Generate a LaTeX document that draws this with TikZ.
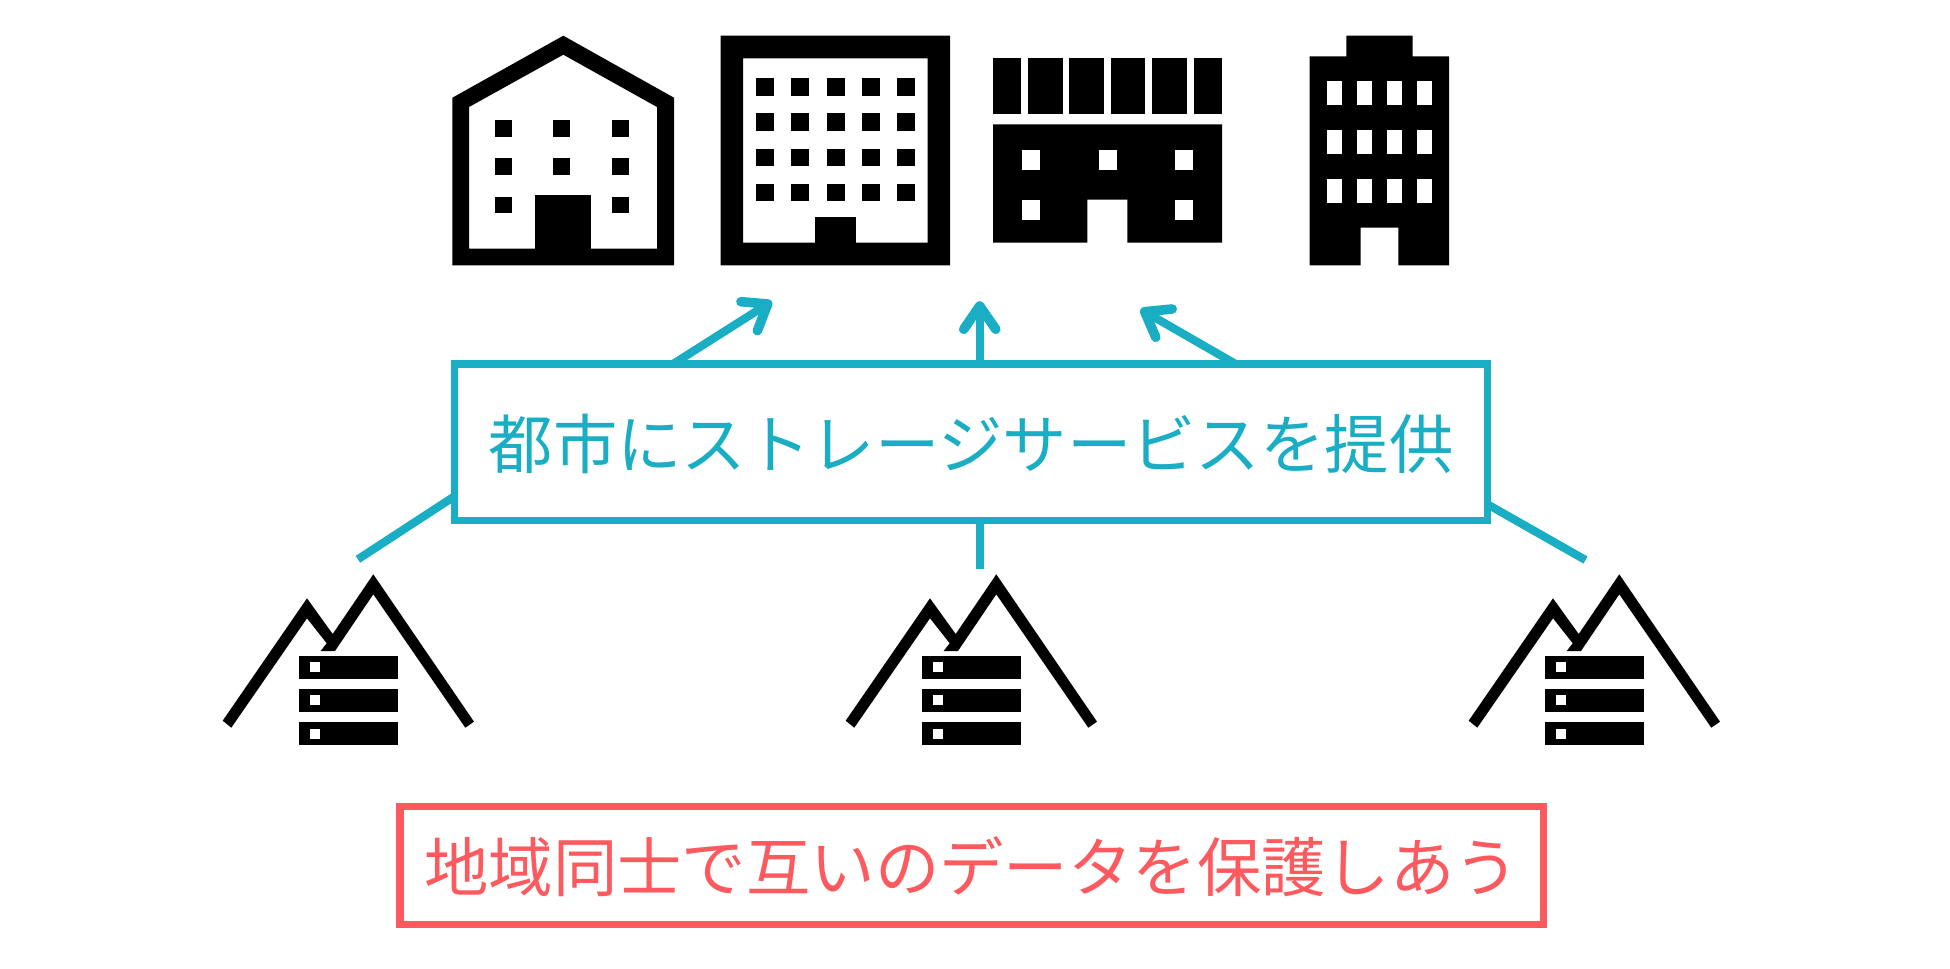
\documentclass[tikz,border=0pt]{standalone}
\usepackage{fontspec}
\setmainfont{Noto Sans CJK JP}
\definecolor{tealc}{HTML}{19AEC4}
\definecolor{redc}{HTML}{FC5A5E}
\tikzset{
  tealline/.style={draw=tealc,line width=4.1pt},
  tealhead/.style={draw=tealc,line width=4.8pt,line cap=round,line join=round},
  captionbox/.style={line width=3.8pt,fill=white,inner sep=0pt,outer sep=0pt,font=\fontsize{32.2pt}{32.2pt}\selectfont}
}
\newcommand{\mountainicon}[1]{%
\begin{scope}[xshift=#1*0.5pt]
\fill[black] (222.7,720.7)--(307,598.3)--(332.7,634)--(373.3,574.3)--(474,721.7)--(465.3,727.7)--(373.3,594.3)--(335,651)--(320.7,651)--(326.7,643.3)--(307,618.3)--(231.3,727.7)--cycle;
\foreach \yy in {656,689,722.3}{
  \fill[black] (298.7,\yy) rectangle (398,\yy+23);
  \fill[white] (310.3,\yy+6.3) rectangle (320.3,\yy+16.3);
}
\end{scope}}
\begin{document}
\begin{tikzpicture}[x=0.5pt,y=-0.5pt]
\useasboundingbox (0,0) rectangle (1950,969);
\fill[white] (0,0) rectangle (1950,969);
% house
\fill[black,even odd rule] (452.4,97.7)--(563.3,35.7)--(674,97.7)--(674,265.3)--(452.4,265.3)--cycle
 (469,107)--(563.3,54.7)--(657,107)--(657,248.7)--(469,248.7)--cycle;
\fill[black] (535.4,195) rectangle (591.2,250);
\foreach \xx in {495.4,553.3,612}{\foreach \yy in {120.3,158.3}{\fill[black] (\xx,\yy) rectangle +(16.7,16.7);}}
\foreach \xx in {495.4,612}{\fill[black] (\xx,196.7) rectangle +(16.7,16.7);}
% office
\fill[black,even odd rule] (720.6,35.7) rectangle (950,265.3) (743,58.3) rectangle (927.6,242.7);
\fill[black] (814.6,217) rectangle (856,244);
\foreach \xx in {756,791.3,826.7,862,897}{\foreach \yy in {78.3,113.3,148.7,183.7}{\fill[black] (\xx,\yy) rectangle +(18,17.5);}}
% store
\foreach \xa/\xb in {993/1021,1028/1062.7,1069.3/1104,1110.7/1145.3,1152.3/1187,1194/1222}{\fill[black] (\xa,57.7) rectangle (\xb,113.7);}
\fill[black] (993,124.3)--(1222,124.3)--(1222,242.7)--(1127.3,242.7)--(1127.3,199.7)--(1087.3,199.7)--(1087.3,242.7)--(993,242.7)--cycle;
\foreach \xx in {1022,1098.7,1174.7}{\fill[white] (\xx,150) rectangle +(18,20);}
\foreach \xx in {1022,1174.7}{\fill[white] (\xx,200.3) rectangle +(18,20);}
% tower
\fill[black] (1309.7,56.3)--(1346.3,56.3)--(1346.3,35.7)--(1412.7,35.7)--(1412.7,56.3)--(1449,56.3)--(1449,265.3)--(1398.3,265.3)--(1398.3,227.7)--(1360.7,227.7)--(1360.7,265.3)--(1309.7,265.3)--cycle;
\foreach \xx in {1327,1357,1387,1417}{\foreach \yy in {80.7,130,179}{\fill[white] (\xx,\yy) rectangle +(15,24.4);}}
% mountains
\mountainicon{0}
\mountainicon{623}
\mountainicon{1246}
% caption boxes
\node[captionbox,draw=tealc,text=tealc,minimum width=516.5pt,minimum height=78.4pt] (svc) at (971.1,442.2) {\smash{\raisebox{-13.2pt}{都市にストレージサービスを提供}}};
\node[captionbox,draw=redc,text=redc,minimum width=571.8pt,minimum height=59pt] (mut) at (971.6,865.5) {\smash{\raisebox{-12.9pt}{地域同士で互いのデータを保護しあう}}};
% free ends
\coordinate (tipA) at (767.7,304);
\coordinate (barbAa) at (740.9,301.7);
\coordinate (barbAb) at (757.4,330.7);
\coordinate (tipB) at (979.7,306);
\coordinate (barbBa) at (963.7,329.3);
\coordinate (barbBb) at (995.8,329.3);
\coordinate (tipC) at (1144.7,311.7);
\coordinate (barbCa) at (1172.2,309);
\coordinate (barbCb) at (1155.8,337.3);
\coordinate (footL) at (357.9,559.3);
\coordinate (footM) at (979.7,569.3);
\coordinate (footR) at (1585.5,560);
% connectors
\draw[tealline] ([xshift=109.4pt]svc.north west) -- (tipA);
\draw[tealline] (svc.north -| tipB) -- (tipB);
\draw[tealline] ([xshift=-126.2pt]svc.north east) -- (tipC);
\draw[tealhead] (barbAa) -- (tipA) -- (barbAb);
\draw[tealhead] (barbBa) -- (tipB) -- (barbBb);
\draw[tealhead] (barbCa) -- (tipC) -- (barbCb);
\draw[tealline] ([yshift=-66.2pt]svc.north west) -- (footL);
\draw[tealline] (svc.south -| footM) -- (footM);
\draw[tealline] ([yshift=-70.3pt]svc.north east) -- (footR);
\end{tikzpicture}
\end{document}
